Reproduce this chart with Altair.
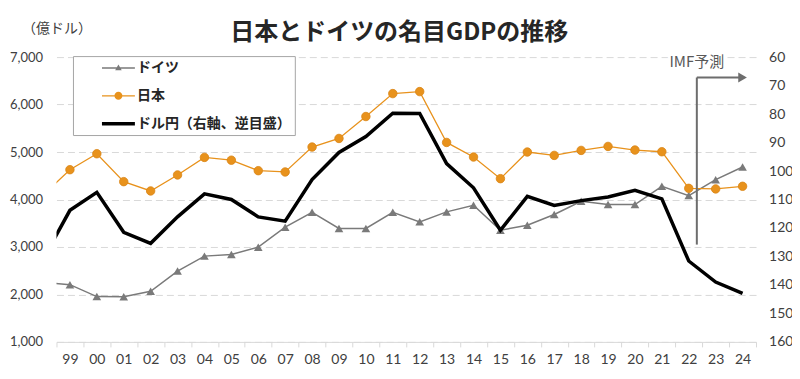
import altair as alt
import pandas as pd

# ---- data ----
years = list(range(1998, 2025))
germany = [2250, 2206, 1954, 1950, 2065, 2492, 2807, 2843, 2996, 3416, 3731, 3389, 3389,
           3731, 3529, 3739, 3878, 3353, 3458, 3683, 3963, 3893, 3893, 4278, 4082, 4418, 4685]
japan = [4090, 4628, 4964, 4376, 4180, 4517, 4887, 4828, 4607, 4580, 5105, 5286, 5748,
         6231, 6273, 5202, 4895, 4439, 5000, 4929, 5034, 5118, 5042, 5006, 4235, 4223, 4278]
yen = [131.0, 113.8, 107.5, 121.5, 125.4, 116.1, 108.0, 110.0, 116.1, 117.6, 103.0, 93.5, 87.9,
       79.7, 79.8, 97.4, 105.9, 120.8, 108.9, 112.1, 110.4, 109.1, 106.8, 109.8, 131.6, 139.0, 143.0]

series = ["ドイツ", "日本", "ドル円（右軸、逆目盛）"]
left_ticks = [1000, 2000, 3000, 4000, 5000, 6000, 7000]
right_ticks = [60, 70, 80, 90, 100, 110, 120, 130, 140, 150, 160]
x_ticks = [y + 0.5 for y in range(1998, 2025)]

# IMF forecast annotation
imf_x = [2022.3, 2024.0]
imf_y = [3050, 6570]
imf_label = ["IMF予測"]
imf_label_y = [6905]

# unit label of the left axis
unit_label = ["（億ドル）"]
unit_pos = [1997.22, 7590]

# ---- styles ----
GRAY = "#7a7a7a"
ORANGE = "#e8921c"
BLACK = "#000000"
JP = "Noto Sans CJK JP"
NUM = "Lato"

df = pd.DataFrame({"year": years, "germany": germany, "japan": japan, "yen": yen})
df_pts = df[df["year"] >= 1999]

xscale = alt.Scale(domain=[1998.5, 2024.5], nice=False, zero=False)
yscale = alt.Scale(domain=[1000, 7000], nice=False, zero=False)

x_axis = alt.Axis(values=x_ticks, title=None, grid=False,
                  labelExpr="datum.value < 2024 ? format((datum.value + 0.5) % 100, '02d') : ''",
                  labelOffset=700 / 26 / 2, labelFlush=False, labelOverlap=False, labelBound=False,
                  labelFont=NUM, labelFontSize=14, labelColor="#404040", labelPadding=6,
                  domainColor="#d9d9d9", tickColor="#d9d9d9", tickSize=5)
y_axis = alt.Axis(values=left_ticks, labelExpr="format(datum.value, ',')", title=None,
                  grid=True, gridColor="#d9d9d9", gridDash=[7, 4], gridWidth=1,
                  domain=False, ticks=False, labelFont=NUM, labelFontSize=13,
                  labelColor="#404040", labelPadding=14)


def X(field):
    return alt.X(field, type="quantitative", scale=xscale, axis=x_axis)


def YL(field):
    return alt.Y(field, type="quantitative", scale=yscale, axis=y_axis)


base = alt.Chart(df)
base_pts = alt.Chart(df_pts)

de_line = base.mark_line(color=GRAY, strokeWidth=1.5, clip=True).encode(x=X("year"), y=YL("germany"))
de_pts = base_pts.mark_point(shape="triangle-up", filled=True, size=75, color=GRAY, opacity=1).encode(
    x=X("year"), y=YL("germany"))
jp_line = base.mark_line(color=ORANGE, strokeWidth=1.3, clip=True).encode(x=X("year"), y=YL("japan"))
jp_pts = base_pts.mark_point(shape="circle", filled=True, size=72, color=ORANGE, opacity=1,
                             stroke="#d98516", strokeWidth=0.8).encode(x=X("year"), y=YL("japan"))

# legend (driven by scales; layer draws nothing itself)
legend_paths = [
    "M-2.06,-0.09H2.06V0.09H-2.06Z M-0.41,0.28L0,-0.45L0.41,0.28Z",
    "M-2.06,-0.08H2.06V0.08H-2.06Z M0.5,0A0.5,0.5,0,1,1,-0.5,0A0.5,0.5,0,1,1,0.5,0Z",
    "M-2.06,-0.22H2.06V0.22H-2.06Z",
]
leg = alt.Legend(title=None, orient="none", legendX=16.5, legendY=-1, padding=4,
                 strokeColor="#a6a6a6", fillColor="white", symbolSize=256, symbolOffset=33.5,
                 labelOffset=10.5, rowPadding=12.8, labelFont=JP, labelFontSize=14,
                 labelFontWeight="bold", labelColor="#262626", labelLimit=400, symbolOpacity=1,
                 symbolStrokeWidth=0)
legend_layer = alt.Chart(pd.DataFrame({"series": series})).transform_filter("false").mark_point(
    filled=True, size=256, opacity=1).encode(
    color=alt.Color("series:N", scale=alt.Scale(domain=series, range=[GRAY, ORANGE, BLACK]), legend=leg),
    shape=alt.Shape("series:N", scale=alt.Scale(domain=series, range=legend_paths), legend=leg),
)

# annotation
ann_v = alt.Chart(pd.DataFrame({"x": [imf_x[0]], "y": [imf_y[0]], "y2": [imf_y[1]]})).mark_rule(
    color="#6d6d6d", strokeWidth=2).encode(x=X("x"), y=YL("y"), y2="y2")
ann_h = alt.Chart(pd.DataFrame({"x": [imf_x[0]], "x2": [imf_x[1]], "y": [imf_y[1]]})).mark_rule(
    color="#6d6d6d", strokeWidth=2).encode(x=X("x"), x2="x2", y=YL("y"))
ann_head = alt.Chart(pd.DataFrame({"x": [imf_x[1]], "y": [imf_y[1]]})).mark_point(
    shape="triangle-right", filled=True, size=100, color="#6d6d6d", opacity=1).encode(x=X("x"), y=YL("y"))
lab_df = pd.DataFrame({"x": [imf_x[0]], "y": imf_label_y, "t": imf_label})
ann_halo = alt.Chart(lab_df).mark_text(font=JP, fontSize=15, color="white", stroke="white",
                                       strokeWidth=6, align="center", baseline="middle").encode(
    x=X("x"), y=YL("y"), text="t")
ann_text = alt.Chart(lab_df).mark_text(font=JP, fontSize=15, color="#595959", align="center",
                                       baseline="middle").encode(x=X("x"), y=YL("y"), text="t")
unit_df = pd.DataFrame({"x": [unit_pos[0]], "y": [unit_pos[1]], "t": unit_label})
unit_text = alt.Chart(unit_df).mark_text(font=JP, fontSize=14, color="#404040", align="left",
                                         baseline="middle").encode(x=X("x"), y=YL("y"), text="t")

inner = alt.layer(de_line, de_pts, jp_line, jp_pts, ann_v, ann_h, ann_head, ann_halo, ann_text,
                  unit_text, legend_layer)

yen_line = base.mark_line(color=BLACK, strokeWidth=3.5, clip=True).encode(
    x=X("year"),
    y=alt.Y("yen", type="quantitative",
            scale=alt.Scale(domain=[60, 160], reverse=True, nice=False, zero=False),
            axis=alt.Axis(orient="right", values=right_ticks, title=None, grid=False, domain=False,
                          ticks=False, labelFont=NUM, labelFontSize=14, labelColor="#404040",
                          labelPadding=12.5)),
)

chart = alt.layer(inner, yen_line).resolve_scale(y="independent").properties(
    width=700, height=285, autosize="none",
    padding={"left": 48.5, "top": 49, "right": 36, "bottom": 30},
    title=alt.Title("日本とドイツの名目GDPの推移", font=JP, fontSize=24, fontWeight="bold",
                    color="#262626", anchor="middle", frame="group", offset=8, dx=-7, dy=31),
).configure_view(stroke=None)

chart.save("out.html", embed_options={"renderer": "svg", "actions": False})
